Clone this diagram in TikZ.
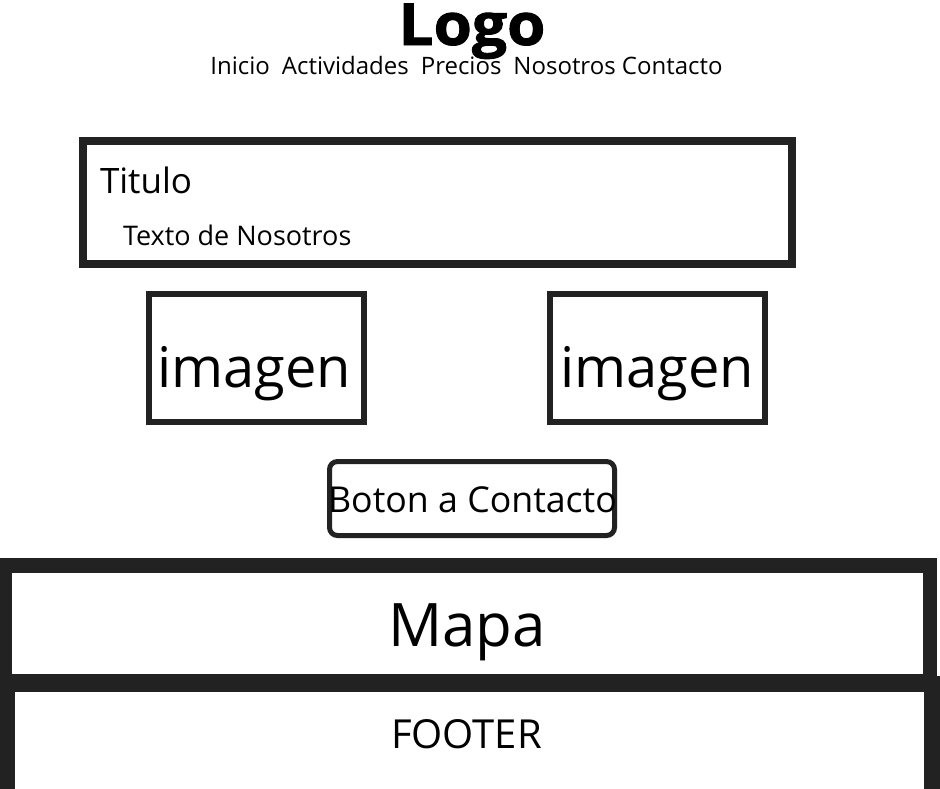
\documentclass[tikz,border=0pt]{standalone}
\usepackage{fontspec}
\setmainfont{Open Sans}
\newfontfamily\logofont[BoldFeatures={FakeBold=1.5,FakeStretch=1.07}]{Open Sans}
\definecolor{ink}{HTML}{222222}
\tikzset{
  box/.style={draw=ink, fill=white, inner sep=0pt, outer sep=0pt},
  txt/.style={inner sep=0pt, outer sep=0pt, text=black},
}
\begin{document}
\begin{tikzpicture}[x=1pt,y=-1pt]
\useasboundingbox (0,0) rectangle (940,788);
\clip (0,0) rectangle (940,788);
% header
\node[txt, font=\fontsize{58}{60}\logofont\bfseries, anchor=base] (logo) at (472,45) {Logo};
\node[txt, font=\fontsize{24}{26}\selectfont, anchor=base] (nav) at (466.5,74) {Inicio\hspace{0.5em}Actividades\hspace{0.5em}Precios\hspace{0.5em}Nosotros Contacto};
% title box
\node[box, line width=8pt, minimum width=709pt, minimum height=123pt] (titlebox) at (437.5,202.5) {};
\node[txt, font=\fontsize{35}{37}\selectfont, anchor=base west] (titulo) at (100,193) {Titulo};
\node[txt, font=\fontsize{27}{29}\selectfont, anchor=base west] (texto) at (123,245) {Texto de Nosotros};
% images
\node[box, line width=6pt, minimum width=215pt, minimum height=128pt] (img1) at (256.5,358) {};
\node[txt, font=\fontsize{56}{60}\selectfont] (img1t) at (254,374) {imagen};
\node[box, line width=6pt, minimum width=215pt, minimum height=128pt] (img2) at (657.5,358) {};
\node[txt, font=\fontsize{56}{60}\selectfont] (img2t) at (657,374) {imagen};
% button
\node[box, line width=5pt, rounded corners=8pt, minimum width=285pt, minimum height=74pt] (btn) at (472,498.5) {};
\node[txt, font=\fontsize{35.7}{38}\selectfont] (btnt) at (472.5,500) {Boton a Contacto};
% mapa
\node[box, line width=14.5pt, minimum width=925pt, minimum height=116pt] (mapa) at (467.25,623.25) {};
\node[txt, font=\fontsize{60}{64}\selectfont] (mapat) at (467,632) {Mapa};
% footer
\node[box, line width=16pt, minimum width=925pt, minimum height=122pt] (footer) at (469.5,745) {};
\node[txt, font=\fontsize{40}{42}\selectfont] (footert) at (466.5,734) {FOOTER};
\end{tikzpicture}
\end{document}
